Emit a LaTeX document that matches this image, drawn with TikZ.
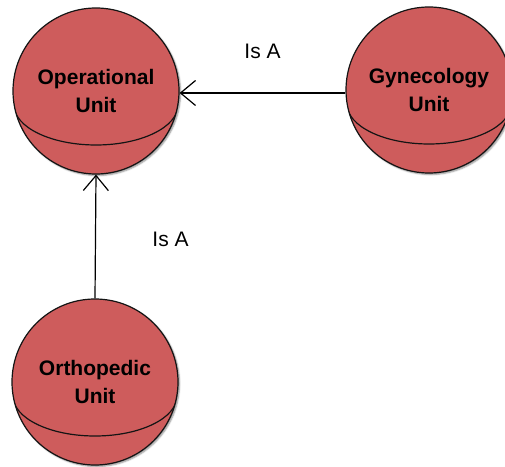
\documentclass[tikz,border=0pt]{standalone}
\usepackage{fontspec}
\setmainfont{Liberation Sans}
\usetikzlibrary{arrows.meta,shadows.blur}

\definecolor{unitred}{RGB}{206,92,92}
\definecolor{unitline}{RGB}{20,20,20}

\tikzset{
  unit/.style={
    circle, draw=unitline, line width=1.2pt, fill=unitred,
    minimum size=166pt, inner sep=0pt, align=center,
    font=\fontsize{21}{28}\selectfont\bfseries,
    blur shadow={shadow xshift=1.5pt, shadow yshift=-1.5pt,
      shadow blur radius=1.5pt, shadow blur steps=4, shadow opacity=45},
    path picture={
      \draw[unitline, line width=1.2pt]
        ([xshift=82pt, yshift=-14pt]path picture bounding box.center)
        arc[start angle=0, end angle=-180, x radius=82pt, y radius=40pt];
    }
  },
  isa/.style={line width=1.2pt, -{Straight Barb[length=15pt, width=25pt, line width=1.2pt]}},
  isalabel/.style={font=\fontsize{21}{24}\selectfont}
}

\begin{document}
\begin{tikzpicture}[x=1pt, y=1pt]
  \useasboundingbox (0,0) rectangle (505,466);
  \clip (0,0) rectangle (505,466);

  % the three units
  \node[unit] (op)    at (96,375)  {\raisebox{-3pt}{Operational}\\\raisebox{-3pt}{Unit}};
  \node[unit] (gyn)   at (429,376) {\raisebox{-3pt}{Gynecology}\\\raisebox{-3pt}{Unit}};
  \node[unit] (ortho) at (95,84)   {\raisebox{-3pt}{Orthopedic}\\\raisebox{-3pt}{Unit}};

  % generalisation links
  \draw[isa] (gyn.west |- 0,373) -- (op.east |- 0,373)
    node[isalabel, midway, yshift=42pt] (isatop) {Is A};
  \draw[isa] (ortho.north) -- (op.south)
    node[isalabel, midway, xshift=75pt, yshift=-3pt] (isaleft) {Is A};
\end{tikzpicture}
\end{document}
